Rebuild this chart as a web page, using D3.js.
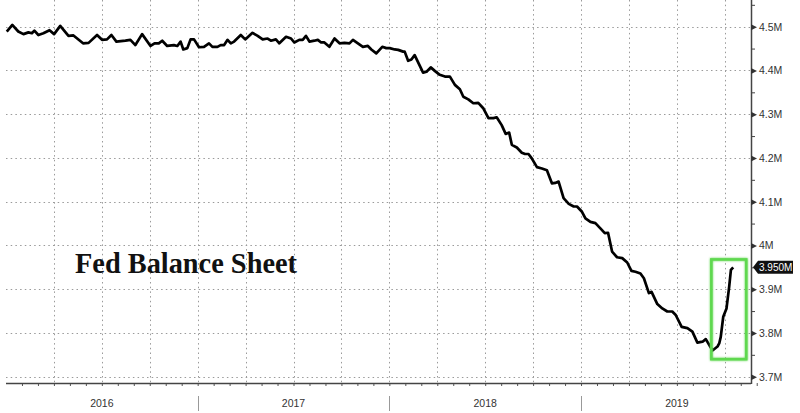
<!DOCTYPE html>
<html><head><meta charset="utf-8">
<script src="https://cdn.jsdelivr.net/npm/d3@7"></script>
<style>
html,body{margin:0;padding:0;background:#fff;}
svg{display:block;}
</style></head>
<body>
<svg id="c" width="800" height="413"></svg>
<script>
// ---- data (decimal year, balance sheet in $ millions of millions -> "M") ----
const dates = [
2016.004,2016.033,2016.064,2016.091,2016.117,2016.135,2016.148,2016.169,2016.195,2016.227,
2016.251,2016.283,2016.326,2016.352,2016.402,2016.431,2016.475,2016.501,2016.527,2016.550,
2016.576,2016.623,2016.649,2016.675,2016.710,2016.754,2016.775,2016.797,2016.815,2016.841,
2016.876,2016.894,2016.911,2016.925,2016.946,2016.963,2016.981,2017.007,2017.033,2017.059,
2017.077,2017.103,2017.120,2017.138,2017.156,2017.173,2017.190,2017.225,2017.248,2017.286,
2017.313,2017.339,2017.365,2017.382,2017.408,2017.426,2017.461,2017.487,2017.504,2017.530,
2017.548,2017.565,2017.583,2017.609,2017.627,2017.644,2017.661,2017.687,2017.714,2017.740,
2017.766,2017.792,2017.810,2017.836,2017.862,2017.888,2017.906,2017.932,2017.963,2017.984,
2018.002,2018.028,2018.046,2018.072,2018.080,2018.098,2018.115,2018.132,2018.176,2018.194,
2018.216,2018.237,2018.263,2018.290,2018.316,2018.342,2018.368,2018.386,2018.412,2018.438,
2018.464,2018.491,2018.517,2018.543,2018.560,2018.586,2018.607,2018.625,2018.639,2018.665,
2018.691,2018.708,2018.726,2018.743,2018.770,2018.796,2018.822,2018.848,2018.866,2018.883,
2018.909,2018.936,2018.962,2018.979,2019.005,2019.023,2019.049,2019.075,2019.101,2019.124,
2019.141,2019.162,2019.188,2019.215,2019.241,2019.263,2019.284,2019.310,2019.328,2019.354,
2019.368,2019.398,2019.424,2019.450,2019.476,2019.494,2019.525,2019.555,2019.581,2019.607,
2019.634,2019.651,2019.686,2019.712,2019.721,2019.729,2019.742,2019.759,2019.773,2019.782,
2019.794
];
const values = [
4.489,4.504,4.489,4.483,4.487,4.485,4.491,4.481,4.485,4.492,
4.483,4.502,4.479,4.480,4.462,4.463,4.481,4.470,4.471,4.481,
4.466,4.468,4.470,4.458,4.483,4.456,4.462,4.462,4.468,4.456,
4.458,4.456,4.466,4.448,4.451,4.471,4.471,4.453,4.454,4.462,
4.454,4.454,4.458,4.458,4.470,4.462,4.466,4.481,4.471,4.486,
4.479,4.471,4.473,4.468,4.471,4.462,4.477,4.473,4.464,4.470,
4.470,4.479,4.466,4.468,4.470,4.464,4.464,4.454,4.473,4.462,
4.463,4.462,4.470,4.462,4.454,4.456,4.448,4.439,4.454,4.451,
4.451,4.448,4.447,4.443,4.443,4.422,4.425,4.435,4.395,4.397,
4.407,4.399,4.390,4.386,4.386,4.367,4.357,4.340,4.334,4.325,
4.326,4.313,4.291,4.291,4.293,4.275,4.255,4.258,4.230,4.224,
4.212,4.209,4.209,4.199,4.179,4.176,4.172,4.142,4.143,4.146,
4.108,4.095,4.089,4.089,4.077,4.062,4.054,4.051,4.039,4.028,
4.029,3.986,3.973,3.971,3.961,3.942,3.940,3.936,3.925,3.891,
3.894,3.866,3.856,3.849,3.849,3.841,3.814,3.811,3.803,3.778,
3.780,3.786,3.760,3.769,3.776,3.791,3.837,3.856,3.906,3.944,
3.950
];
const yearLabels = ["2016","2017","2018","2019"];
const yTicks = [3.7,3.8,3.9,4.0,4.1,4.2,4.3,4.4,4.5];
const yTickLabels = ["3.7M","3.8M","3.9M","4M","4.1M","4.2M","4.3M","4.4M","4.5M"];
const lastLabel = "3.950M";
const title = "Fed Balance Sheet";
const highlight = [2019.680, 2019.862, 3.74, 3.968]; // x0,x1 (years), y0,y1 (M)

// ---- layout ----
const svg = d3.select("#c");
const axX = 751, axY = 383, left = 6;
const x = d3.scaleLinear().domain([2016, 2020]).range([6, 772.7]);
const y = d3.scaleLinear().domain([3.7, 4.5]).range([376.7, 26.7]);
const sans = "'Liberation Sans',Arial,sans-serif";

const gridCol = "#9a9a9a";
// horizontal grid
svg.append("g").selectAll("line").data(yTicks).join("line")
  .attr("x1", left).attr("x2", axX)
  .attr("y1", d => Math.round(y(d)) + 0.5).attr("y2", d => Math.round(y(d)) + 0.5)
  .attr("stroke", gridCol).attr("stroke-width", 1).attr("stroke-dasharray", "1.5,3.2");
// vertical grid (quarters)
const quarters = d3.range(2016.25, 2019.99, 0.25);
svg.append("g").selectAll("line").data(quarters).join("line")
  .attr("x1", d => Math.round(x(d)) + 0.5).attr("x2", d => Math.round(x(d)) + 0.5)
  .attr("y1", 0).attr("y2", axY)
  .attr("stroke", gridCol).attr("stroke-width", 1).attr("stroke-dasharray", "1.5,3.2");

// title
svg.append("text").attr("x", 75).attr("y", 273)
  .attr("font-family", "'Liberation Serif','DejaVu Serif',serif")
  .attr("font-weight", "bold").attr("font-size", 29).attr("fill", "#111")
  .attr("textLength", 222).attr("lengthAdjust", "spacingAndGlyphs")
  .text(title);

// bottom axis: month ticks
const months = d3.range(2016 + 1/12, 2019.92, 1/12);
const bx = d3.axisBottom(x).tickValues(months).tickSize(3).tickFormat("");
const gb = svg.append("g").attr("transform", `translate(0,${axY})`).call(bx);
gb.select(".domain").remove();
gb.selectAll(".tick line").attr("stroke", "#555").attr("stroke-width", 1);
svg.append("line").attr("x1", left).attr("x2", axX).attr("y1", axY + 0.5).attr("y2", axY + 0.5)
  .attr("stroke", "#444").attr("stroke-width", 1.5);
// year separators
svg.append("g").selectAll("line").data([2017, 2018, 2019]).join("line")
  .attr("x1", d => Math.round(x(d)) + 0.5).attr("x2", d => Math.round(x(d)) + 0.5)
  .attr("y1", 396).attr("y2", 411).attr("stroke", "#999").attr("stroke-width", 1);
// year labels
svg.append("g").selectAll("text").data(yearLabels).join("text")
  .attr("x", (d) => x(+d + 0.5)).attr("y", 407).attr("text-anchor", "middle")
  .attr("font-family", sans).attr("font-size", 10.5).attr("fill", "#333")
  .text(d => d);

// right axis
svg.append("line").attr("x1", axX + 0.5).attr("x2", axX + 0.5).attr("y1", 0).attr("y2", axY + 1)
  .attr("stroke", "#444").attr("stroke-width", 1.5);
const minor = d3.range(3.75, 4.56, 0.1);
const ry = d3.axisRight(y).tickValues(minor).tickSize(4).tickFormat("");
const gm = svg.append("g").attr("transform", `translate(${axX},0)`).call(ry);
gm.select(".domain").remove();
gm.selectAll(".tick line").attr("stroke", "#444");
const ryMaj = d3.axisRight(y).tickValues(yTicks).tickSize(0).tickPadding(8)
  .tickFormat((d, i) => yTickLabels[i]);
const gy = svg.append("g").attr("transform", `translate(${axX},0)`).call(ryMaj);
gy.select(".domain").remove();
gy.selectAll(".tick text").attr("font-family", sans)
  .attr("font-size", 10.5).attr("fill", "#333");
gy.selectAll(".tick").append("path").attr("d", "M0,-3L6,0L0,3Z").attr("fill", "#333");

// line
const pts = dates.map((d, i) => [d, values[i]]);
const line = d3.line().x(d => x(d[0])).y(d => y(d[1])).curve(d3.curveLinear);
svg.append("path").datum(pts).attr("d", line).attr("fill", "none")
  .attr("stroke", "#000").attr("stroke-width", 2.7).attr("stroke-linejoin", "round");

// green highlight box
const defs = svg.append("defs");
const f = defs.append("filter").attr("id", "glow").attr("x", "-30%").attr("y", "-30%").attr("width", "160%").attr("height", "160%");
f.append("feGaussianBlur").attr("stdDeviation", 1.2).attr("result", "b");
const m = f.append("feMerge"); m.append("feMergeNode").attr("in", "b"); m.append("feMergeNode").attr("in", "SourceGraphic");
svg.append("rect")
  .attr("x", x(highlight[0])).attr("y", y(highlight[3]))
  .attr("width", x(highlight[1]) - x(highlight[0])).attr("height", y(highlight[2]) - y(highlight[3]))
  .attr("fill", "none").attr("stroke", "#5fd84f").attr("stroke-width", 2.6).attr("filter", "url(#glow)");

// last value label
const ly = y(values[values.length - 1]);
svg.append("path")
  .attr("d", `M${axX + 2},${ly} L${axX + 7},${ly - 6.5} L${axX + 42},${ly - 6.5} L${axX + 42},${ly + 6.5} L${axX + 7},${ly + 6.5} Z`)
  .attr("fill", "#111");
svg.append("text").attr("x", axX + 8).attr("y", ly + 3.8).attr("font-family", sans)
  .attr("font-size", 10).attr("fill", "#fff").text(lastLabel);
</script>
</body></html>
